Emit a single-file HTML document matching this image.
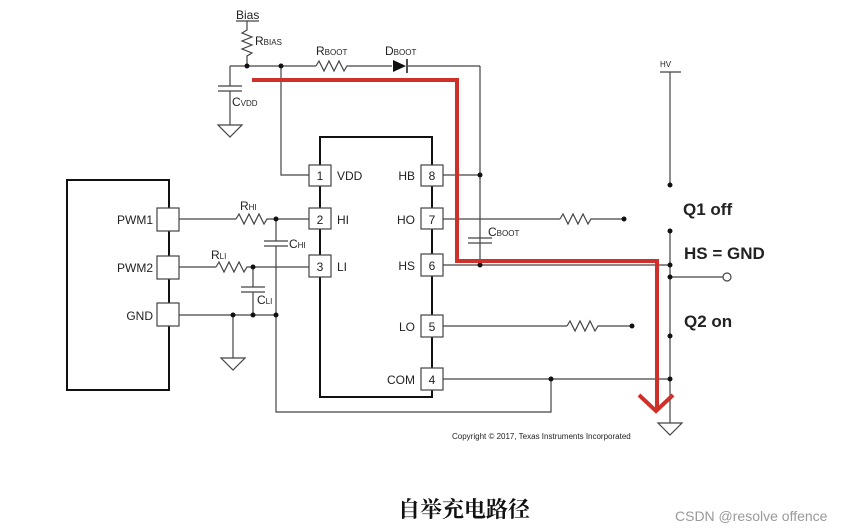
<!DOCTYPE html>
<html><head><meta charset="utf-8"><style>
html,body{margin:0;padding:0;background:#fff;}
svg{display:block;}
text{font-family:"Liberation Sans",Arial,sans-serif;fill:#222;}
</style></head><body>
<svg width="852" height="532" viewBox="0 0 852 532" xmlns="http://www.w3.org/2000/svg">
<g stroke="#444" stroke-width="1.2" fill="none">
<line x1="236" y1="21" x2="259" y2="21"/>
<polyline points="247,21 247,30 242,33 252,37 242,41 252,45 242,49 252,53 247,56 247,66"/>
<line x1="230" y1="66" x2="316" y2="66"/>
<polyline points="316,66 319,61 324,71 329,61 334,71 339,61 344,71 347,66 392,66"/>
<line x1="408" y1="66" x2="480" y2="66"/>
<line x1="480" y1="66" x2="480" y2="265"/>
<line x1="230" y1="66" x2="230" y2="86"/>
<line x1="218" y1="86" x2="242" y2="86"/>
<line x1="218" y1="91" x2="242" y2="91"/>
<line x1="230" y1="91" x2="230" y2="125"/>
<polyline points="281,66 281,175 309,175"/>
<line x1="443" y1="175" x2="480" y2="175"/>
<line x1="443" y1="219" x2="560" y2="219"/>
<polyline points="560,219 563,214 568,224 573,214 578,224 583,214 588,224 591,219 624,219"/>
<line x1="443" y1="265" x2="670" y2="265"/>
<line x1="443" y1="326" x2="567" y2="326"/>
<polyline points="567,326 570,321 575,331 580,321 585,331 590,321 595,331 598,326 632,326"/>
<line x1="443" y1="379" x2="670" y2="379"/>
<polyline points="551,379 551,412 276,412 276,246"/>
<line x1="468" y1="238" x2="492" y2="238"/>
<line x1="468" y1="243" x2="492" y2="243"/>
<line x1="670" y1="72" x2="670" y2="185"/>
<line x1="660" y1="72" x2="681" y2="72"/>
<line x1="670" y1="231" x2="670" y2="423"/>
<line x1="670" y1="277" x2="723" y2="277"/>
<line x1="179" y1="219" x2="236" y2="219"/>
<polyline points="236,219 239,214 244,224 249,214 254,224 259,214 264,224 267,219 309,219"/>
<line x1="276" y1="219" x2="276" y2="241"/>
<line x1="264" y1="241" x2="288" y2="241"/>
<line x1="264" y1="246" x2="288" y2="246"/>
<line x1="179" y1="267" x2="216" y2="267"/>
<polyline points="216,267 219,262 224,272 229,262 234,272 239,262 244,272 247,267 309,267"/>
<line x1="253" y1="267" x2="253" y2="287"/>
<line x1="241" y1="287" x2="265" y2="287"/>
<line x1="241" y1="292" x2="265" y2="292"/>
<line x1="253" y1="292" x2="253" y2="315"/>
<line x1="179" y1="315" x2="276" y2="315"/>
<line x1="233" y1="315" x2="233" y2="358"/>
</g>
<g stroke="#444" stroke-width="1.2" fill="#fff">
<polygon points="218,125 242,125 230,137"/>
<polygon points="221,358 245,358 233,370"/>
<polygon points="658,423 682,423 670,435"/>
<circle cx="727" cy="277" r="4"/>
</g>
<polygon points="393,60 393,72 406,66" fill="#111"/>
<line x1="407" y1="59" x2="407" y2="73" stroke="#111" stroke-width="1.5"/>
<g fill="#111">
<circle cx="247" cy="66" r="2.5"/><circle cx="281" cy="66" r="2.5"/>
<circle cx="480" cy="175" r="2.5"/><circle cx="480" cy="265" r="2.5"/>
<circle cx="624" cy="219" r="2.5"/><circle cx="632" cy="326" r="2.5"/>
<circle cx="551" cy="379" r="2.5"/>
<circle cx="670" cy="185" r="2.5"/><circle cx="670" cy="231" r="2.5"/>
<circle cx="670" cy="265" r="2.5"/><circle cx="670" cy="277" r="2.5"/>
<circle cx="670" cy="336" r="2.5"/><circle cx="670" cy="379" r="2.5"/>
<circle cx="276" cy="219" r="2.5"/><circle cx="253" cy="267" r="2.5"/>
<circle cx="233" cy="315" r="2.5"/><circle cx="253" cy="315" r="2.5"/><circle cx="276" cy="315" r="2.5"/>
</g>
<rect x="67" y="180" width="102" height="210" fill="none" stroke="#111" stroke-width="2"/>
<rect x="320" y="137" width="112" height="260" fill="none" stroke="#111" stroke-width="2"/>
<g fill="#fff" stroke="#444" stroke-width="1.2">
<rect x="157" y="208" width="22" height="23"/><rect x="157" y="256" width="22" height="23"/><rect x="157" y="303" width="22" height="23"/>
<rect x="309" y="165" width="22" height="21"/><rect x="309" y="208" width="22" height="21"/><rect x="309" y="255" width="22" height="22"/>
<rect x="421" y="165" width="22" height="21"/><rect x="421" y="208" width="22" height="21"/><rect x="421" y="254" width="22" height="22"/>
<rect x="421" y="315" width="22" height="22"/><rect x="421" y="368" width="22" height="22"/>
</g>
<polyline points="252,80 457,80 457,261 657,261 657,410" fill="none" stroke="#d0302a" stroke-width="4"/>
<polyline points="639,395 656,411 673,395" fill="none" stroke="#d0302a" stroke-width="4"/>
<g font-size="12">
<text x="236" y="19">Bias</text>
<text x="255" y="45">R<tspan font-size="8">BIAS</tspan></text>
<text x="316" y="55">R<tspan font-size="8">BOOT</tspan></text>
<text x="385" y="55">D<tspan font-size="8">BOOT</tspan></text>
<text x="232" y="106">C<tspan font-size="8">VDD</tspan></text>
<text x="488" y="236">C<tspan font-size="8">BOOT</tspan></text>
<text x="240" y="210">R<tspan font-size="8">HI</tspan></text>
<text x="289" y="248">C<tspan font-size="8">HI</tspan></text>
<text x="211" y="259">R<tspan font-size="8">LI</tspan></text>
<text x="257" y="304">C<tspan font-size="8">LI</tspan></text>
<text x="153" y="224" text-anchor="end">PWM1</text>
<text x="153" y="272" text-anchor="end">PWM2</text>
<text x="153" y="320" text-anchor="end">GND</text>
<g text-anchor="middle"><text x="320" y="180">1</text><text x="320" y="224">2</text><text x="320" y="271">3</text>
<text x="432" y="180">8</text><text x="432" y="224">7</text><text x="432" y="270">6</text><text x="432" y="331">5</text><text x="432" y="384">4</text></g>
<text x="337" y="180">VDD</text><text x="337" y="224">HI</text><text x="337" y="271">LI</text>
<text x="415" y="180" text-anchor="end">HB</text><text x="415" y="224" text-anchor="end">HO</text><text x="415" y="270" text-anchor="end">HS</text>
<text x="415" y="331" text-anchor="end">LO</text><text x="415" y="384" text-anchor="end">COM</text>
</g>
<text x="660" y="67" font-size="8">HV</text>
<g font-size="17" font-weight="bold">
<text x="683" y="215">Q1 off</text>
<text x="684" y="259">HS = GND</text>
<text x="684" y="327">Q2 on</text>
</g>
<text x="452" y="439" font-size="8">Copyright © 2017, Texas Instruments Incorporated</text>
<text x="464" y="517" font-size="22" font-weight="bold" text-anchor="middle" style="font-family:'Noto Serif CJK SC','Noto Sans CJK SC',serif;fill:#111">自举充电路径</text>
<text x="675" y="521" font-size="14" style="fill:#999">CSDN @resolve offence</text>
</svg>
</body></html>
